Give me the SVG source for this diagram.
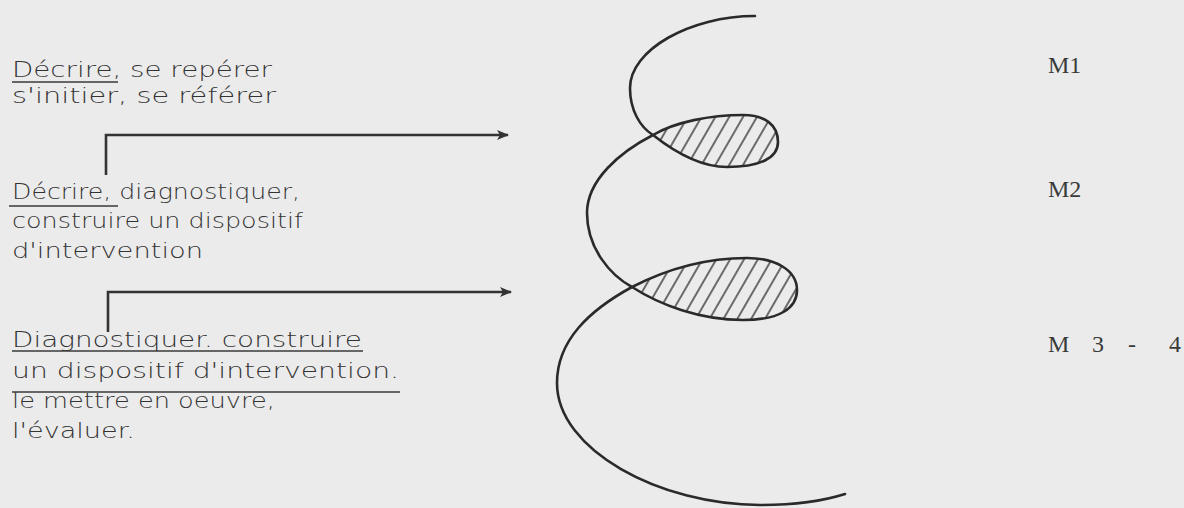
<svg xmlns="http://www.w3.org/2000/svg" width="1184" height="508" viewBox="0 0 1184 508">
<style>
.t{font-family:"DejaVu Sans","Liberation Sans",sans-serif;font-size:21px;fill:#333;font-weight:300}
.m{font-family:"Liberation Serif","DejaVu Serif",serif;font-size:24px;fill:#3a3a3a}
.u{stroke:#3a3a3a;stroke-width:1.6;fill:none}
.c{stroke:#333;stroke-width:2.6;fill:none}
.curve{stroke:#2a2a2a;stroke-width:2.6;fill:none;stroke-linecap:round}
.hatch{fill:url(#h);stroke:none}
</style>
<defs>
<pattern id="h" width="12" height="12" patternUnits="userSpaceOnUse" patternTransform="rotate(30)">
<line x1="6" y1="0" x2="6" y2="12" stroke="#333" stroke-width="1.4"/>
</pattern>
<marker id="ah" markerWidth="12" markerHeight="10" refX="11" refY="5" orient="auto" markerUnits="userSpaceOnUse">
<path d="M0,0 L12,5 L0,10 L3,5 Z" fill="#333"/>
</marker>
</defs>
<rect width="1184" height="508" fill="#ebebeb"/>
<g id="block1">
<text class="t" x="12" y="77" textLength="260" lengthAdjust="spacingAndGlyphs">Décrire, se repérer</text>
<text class="t" x="12" y="103" textLength="264" lengthAdjust="spacingAndGlyphs">s'initier, se référer</text>
<line class="u" x1="12" y1="82" x2="118" y2="82"/>
</g>
<g id="block2">
<text class="t" x="12" y="199" textLength="288" lengthAdjust="spacingAndGlyphs">Décrire, diagnostiquer,</text>
<text class="t" x="12" y="228" textLength="291" lengthAdjust="spacingAndGlyphs">construire un dispositif</text>
<text class="t" x="12" y="258" textLength="191" lengthAdjust="spacingAndGlyphs">d'intervention</text>
<line class="u" x1="9" y1="206" x2="118" y2="206"/>
</g>
<g id="block3">
<text class="t" x="12" y="347" textLength="350" lengthAdjust="spacingAndGlyphs">Diagnostiquer. construire</text>
<text class="t" x="12" y="378" textLength="387" lengthAdjust="spacingAndGlyphs">un dispositif d'intervention.</text>
<text class="t" x="12" y="408" textLength="263" lengthAdjust="spacingAndGlyphs">le mettre en oeuvre,</text>
<text class="t" x="12" y="438" textLength="123" lengthAdjust="spacingAndGlyphs">l'évaluer.</text>
<line class="u" x1="12" y1="351" x2="363" y2="351"/>
<line class="u" x1="12" y1="392" x2="400" y2="392"/>
</g>
<g id="spiral">
<path class="hatch" d="M653,135 C672,150 700,167 727,167 C760,167 778,158 778,142 C778,125 765,115 743,115 C710,115 675,122 653,135 Z"/>
<path class="hatch" d="M632,287 C660,305 700,320 743,320 C780,320 797,308 797,290 C797,270 775,258 747,258 C705,258 665,270 632,287 Z"/>
<path class="curve" d="M755,16 C690,16 630,50 630,88 C630,110 640,127 653,135 C672,150 700,167 727,167 C760,167 778,158 778,142 C778,125 765,115 743,115 C710,115 675,122 653,135 C620,152 587,180 587,213 C587,248 610,275 632,287 C660,305 700,320 743,320 C780,320 797,308 797,290 C797,270 775,258 747,258 C705,258 665,270 632,287 C590,310 557,340 557,383 C557,450 660,505 760,505 C790,505 820,502 845,494"/>
</g>
<g id="labels">
<text class="m" x="1048" y="73">M1</text>
<text class="m" x="1048" y="197">M2</text>
<text class="m" y="352"><tspan x="1048">M</tspan><tspan x="1092">3</tspan><tspan x="1128">-</tspan><tspan x="1169">4</tspan></text>
</g>
<g id="connectors">
<path class="c" d="M106,175 L106,135 L508,135" marker-end="url(#ah)"/>
<path class="c" d="M108,332 L108,292 L511,292" marker-end="url(#ah)"/>
</g>
</svg>
